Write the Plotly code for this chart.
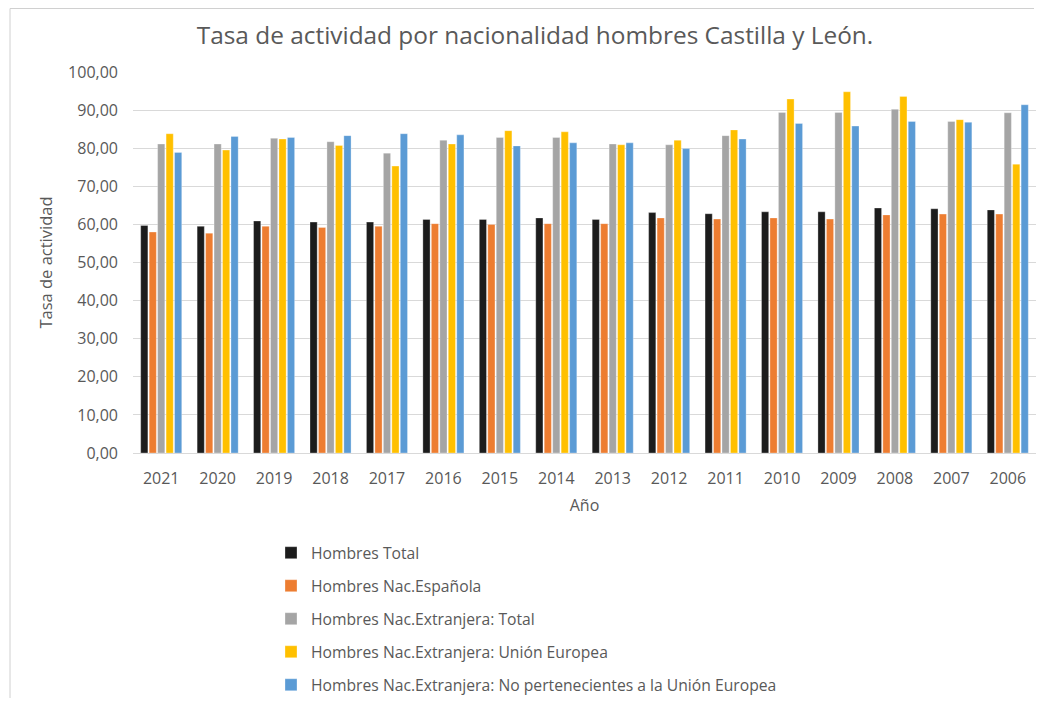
import plotly.graph_objects as go

# Años (eje X, orden del gráfico original)
years = ['2021', '2020', '2019', '2018', '2017', '2016', '2015', '2014',
         '2013', '2012', '2011', '2010', '2009', '2008', '2007', '2006']

# Tasa de actividad por serie
hombres_total = [59.7, 59.5, 60.9, 60.6, 60.6, 61.3, 61.3, 61.7,
                 61.3, 63.1, 62.8, 63.3, 63.3, 64.3, 64.1, 63.8]
hombres_espanola = [58.0, 57.7, 59.5, 59.2, 59.5, 60.2, 60.0, 60.2,
                    60.2, 61.7, 61.4, 61.7, 61.4, 62.5, 62.7, 62.7]
extranjera_total = [81.1, 81.1, 82.6, 81.7, 78.7, 82.1, 82.8, 82.8,
                    81.1, 80.9, 83.3, 89.4, 89.4, 90.2, 87.0, 89.3]
extranjera_ue = [83.8, 79.5, 82.4, 80.7, 75.3, 81.1, 84.6, 84.3,
                 80.9, 82.1, 84.8, 92.9, 94.8, 93.6, 87.5, 75.8]
extranjera_no_ue = [78.9, 83.1, 82.8, 83.3, 83.8, 83.5, 80.6, 81.4,
                    81.4, 79.9, 82.4, 86.5, 85.8, 87.0, 86.8, 91.4]

series = [
    ('Hombres Total', hombres_total, '#1c1c1c'),
    ('Hombres Nac.Española', hombres_espanola, '#ed7d31'),
    ('Hombres Nac.Extranjera: Total', extranjera_total, '#a5a5a5'),
    ('Hombres Nac.Extranjera: Unión Europea', extranjera_ue, '#ffc000'),
    ('Hombres Nac.Extranjera: No pertenecientes a la Unión Europea', extranjera_no_ue, '#5b9bd5'),
]

font_family = 'Open Sans, Noto Sans, sans-serif'
text_color = '#595959'

fig = go.Figure()
for i, (name, values, color) in enumerate(series):
    fig.add_trace(go.Bar(
        name=name, x=years, y=values,
        marker=dict(color=color, line=dict(color='rgba(255,255,255,0.6)', width=0.5)),
        legendgroup=str(i),
    ))

# figure is drawn inside the page body (8px default margin), so size it to fit
W, H = 1032, 690
ml, mr, mt, mb = 125, 4, 64, 245
pw, ph = W - ml - mr, H - mt - mb

def px_x(x):
    return (x - ml) / pw

def px_y(y):
    return (H - mb - y) / ph

fig.update_layout(
    width=W, height=H,
    margin=dict(l=ml, r=mr, t=mt, b=mb),
    paper_bgcolor='white', plot_bgcolor='white',
    separators=',.',
    font=dict(family=font_family, size=15, color=text_color),
    title=dict(text='Tasa de actividad por nacionalidad hombres Castilla y León.',
               x=527 / W, xanchor='center', y=1 - 27 / H, yanchor='middle',
               font=dict(size=24.4, color=text_color)),
    barmode='group', bargap=0.25, bargroupgap=0.15,
    showlegend=True,
    legend=dict(orientation='v', x=px_x(263), xanchor='left',
                yref='container', y=1 - 528 / H, yanchor='top',
                font=dict(size=15.7, color=text_color), tracegroupgap=9.6,
                itemwidth=30, bgcolor='rgba(0,0,0,0)'),
    xaxis=dict(title=dict(text='Año', font=dict(size=16, color=text_color), standoff=11),
               showgrid=False, showline=False, ticks='', ticklabelstandoff=14,
               tickfont=dict(size=16, color=text_color)),
    yaxis=dict(title=dict(text='Tasa de actividad', font=dict(size=16.5, color=text_color), standoff=11),
               range=[0, 100], dtick=10, tickformat='.2f',
               showgrid=True, gridcolor='#d9d9d9', gridwidth=1,
               zeroline=True, zerolinecolor='#d9d9d9', zerolinewidth=1,
               showline=False, ticks='', ticklabelstandoff=14,
               tickfont=dict(size=16, color=text_color)),
    shapes=[
        dict(type='line', xref='paper', yref='paper',
             x0=px_x(2), x1=px_x(1026), y0=px_y(0.5), y1=px_y(0.5),
             line=dict(color='#d0d0d0', width=1)),
        dict(type='line', xref='paper', yref='paper',
             x0=px_x(2), x1=px_x(2), y0=px_y(0.5), y1=px_y(H),
             line=dict(color='#d0d0d0', width=1)),
    ],
)

fig.write_html('out.html')
